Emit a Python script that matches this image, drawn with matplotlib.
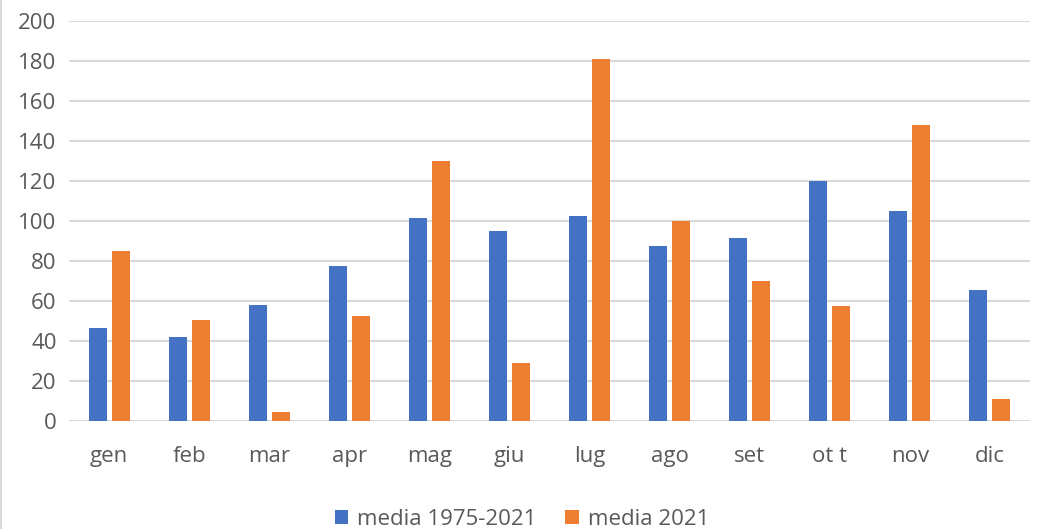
import matplotlib
matplotlib.use("Agg")
import matplotlib.pyplot as plt
import numpy as np
from matplotlib.lines import Line2D

months = ["gen", "feb", "mar", "apr", "mag", "giu", "lug", "ago", "set", "ot t", "nov", "dic"]
media_1975_2021 = [46.5, 42, 58, 77.5, 101.5, 95, 102.5, 87.5, 91.5, 120, 105, 65.5]
media_2021 = [85, 50.5, 4.5, 52.5, 130, 29, 181, 100, 70, 57.5, 148, 11]
yticks = [0, 20, 40, 60, 80, 100, 120, 140, 160, 180, 200]
series_names = ["media 1975-2021", "media 2021"]

plt.rcParams['font.family'] = ['Open Sans', 'DejaVu Sans']
W, H = 1044, 529
fig = plt.figure(figsize=(W/100, H/100), dpi=100)
ax = fig.add_axes([69/W, 1-421/H, (1030-69)/W, 400/H])

x = np.arange(len(months))
bw = 0.225
off = 0.144
c_blue = "#4472C4"
c_orange = "#ED7D31"
ax.bar(x - off, media_1975_2021, bw, color=c_blue, label=series_names[0], zorder=3)
ax.bar(x + off, media_2021, bw, color=c_orange, label=series_names[1], zorder=3)

ax.set_xlim(-0.5, len(months) - 0.5)
ax.set_ylim(0, 200)
ax.set_yticks(yticks)
ax.set_xticks(x)
ax.set_xticklabels(months)
ax.yaxis.grid(True, color="#D9D9D9", linewidth=1.5, zorder=0)
ax.set_axisbelow(True)
for s in ax.spines.values():
    s.set_visible(False)
ax.tick_params(axis='both', length=0, labelsize=16, colors="#595959")
ax.tick_params(axis='y', pad=9)
ax.tick_params(axis='x', pad=18)

fig.legend(loc="lower center", bbox_to_anchor=(0.5, -0.04), ncol=2, frameon=False,
           fontsize=16, labelcolor="#595959", handlelength=0.6, handleheight=0.6,
           handletextpad=0.4, columnspacing=1.3)

# left edge of chart border
fig.add_artist(Line2D([1/W, 1/W], [0, 1], transform=fig.transFigure,
                      color="#D9D9D9", linewidth=1.5))

fig.savefig("out.png", dpi=100)
